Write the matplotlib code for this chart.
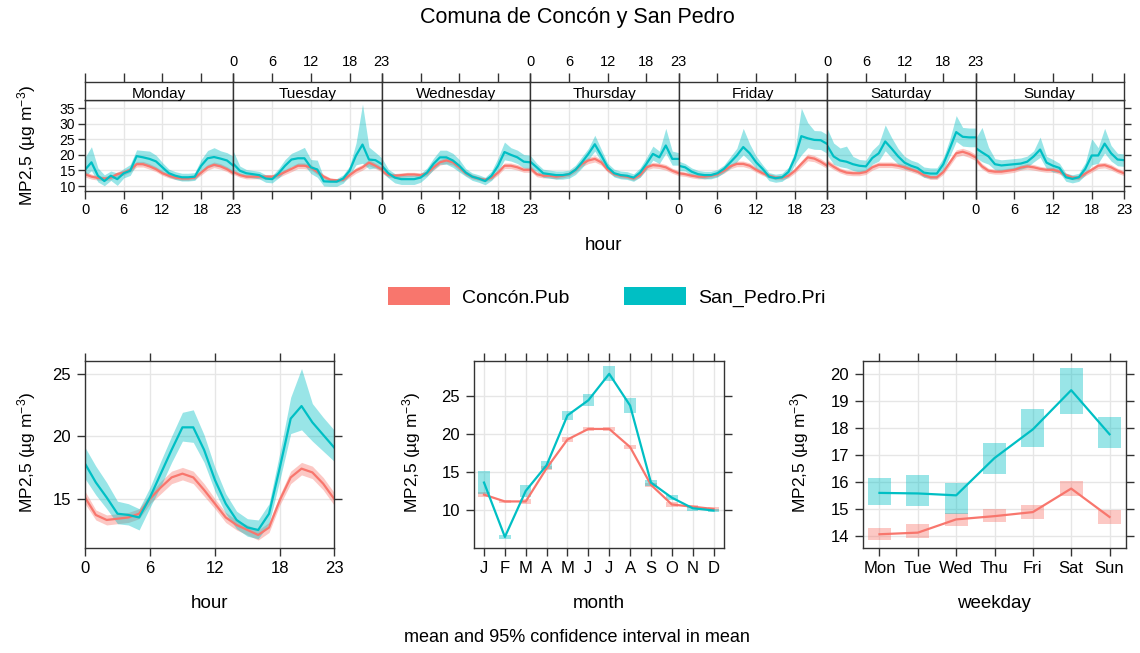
import matplotlib
matplotlib.use("Agg")
import matplotlib.pyplot as plt
from matplotlib.patches import Patch, Rectangle
import numpy as np

plt.rcParams['font.family'] = ['Liberation Sans', 'DejaVu Sans']
plt.rcParams['mathtext.default'] = 'regular'

RED = '#F8766D'
TEAL = '#00BFC4'
EDGE = '#333333'
GRID = '#e6e6e6'

days = ['Monday', 'Tuesday', 'Wednesday', 'Thursday', 'Friday', 'Saturday', 'Sunday']
series = ['Concón.Pub', 'San_Pedro.Pri']
ylab = 'MP2,5 (µg m$^{-3}$)'

# hour x weekday means (one row per day)
pub_week = [
    [13.8, 13.0, 12.6, 12.4, 12.7, 13.8, 14.3, 15.2, 17.0, 17.0, 16.3, 15.4, 14.1, 13.3, 12.7, 12.4, 12.4, 12.7, 14.3, 16.0, 16.8, 16.3, 15.4, 14.1],
    [14.5, 13.5, 13.0, 13.0, 13.0, 13.0, 13.0, 13.5, 14.5, 15.5, 16.5, 16.5, 16.0, 14.5, 13.0, 12.0, 11.8, 12.0, 13.5, 15.0, 16.0, 17.5, 16.5, 15.3],
    [14.9, 13.5, 13.3, 13.5, 13.7, 13.7, 13.5, 14.1, 16.0, 17.6, 18.2, 17.6, 16.0, 14.1, 13.0, 12.4, 12.0, 12.7, 14.3, 16.5, 16.5, 16.0, 15.2, 15.2],
    [15.7, 13.8, 13.3, 13.3, 13.0, 13.3, 13.8, 15.2, 17.1, 18.2, 18.7, 17.6, 15.2, 13.8, 13.3, 13.0, 12.4, 13.5, 16.0, 16.7, 16.5, 16.0, 14.9, 14.1],
    [14.1, 13.8, 13.3, 13.0, 13.0, 13.3, 13.8, 14.9, 16.3, 17.1, 17.1, 16.5, 15.2, 14.1, 13.3, 12.7, 12.7, 13.3, 14.9, 17.1, 19.2, 18.8, 17.8, 16.5],
    [17.6, 16.2, 15.0, 14.3, 14.1, 14.1, 14.5, 16.0, 16.8, 16.8, 16.8, 16.5, 16.0, 15.3, 14.6, 13.5, 12.8, 12.8, 14.5, 17.5, 20.5, 21.0, 20.3, 19.2],
    [18.7, 16.3, 14.9, 14.6, 14.6, 14.9, 15.2, 15.9, 16.3, 16.0, 15.5, 15.2, 15.2, 14.6, 13.5, 12.7, 12.7, 14.0, 15.2, 16.5, 16.7, 16.0, 14.9, 14.1],
]
pub_week_ci = [
    [0.9, 0.8, 0.7, 0.7, 0.7, 0.8, 0.8, 0.8, 0.9, 0.9, 0.9, 0.8, 0.7, 0.7, 0.6, 0.6, 0.6, 0.6, 0.8, 0.9, 0.9, 0.9, 0.8, 0.8],
    [0.8, 0.7, 0.7, 0.7, 0.7, 0.7, 0.7, 0.8, 0.8, 0.9, 0.9, 0.9, 0.9, 0.8, 0.7, 0.6, 0.6, 0.6, 0.8, 0.9, 0.9, 1.0, 0.9, 0.8],
    [0.8, 0.7, 0.7, 0.7, 0.7, 0.7, 0.7, 0.8, 0.9, 0.9, 1.0, 0.9, 0.9, 0.8, 0.7, 0.6, 0.6, 0.7, 0.8, 0.9, 0.9, 0.9, 0.8, 0.8],
    [0.9, 0.8, 0.7, 0.7, 0.7, 0.7, 0.7, 0.8, 0.9, 1.0, 1.0, 0.9, 0.8, 0.7, 0.7, 0.6, 0.6, 0.7, 0.8, 0.9, 0.9, 0.9, 0.8, 0.8],
    [0.8, 0.7, 0.7, 0.7, 0.7, 0.7, 0.7, 0.8, 0.8, 0.9, 0.9, 0.9, 0.8, 0.7, 0.7, 0.7, 0.7, 0.7, 0.8, 1.0, 1.1, 1.0, 1.0, 0.9],
    [1.0, 0.9, 0.8, 0.8, 0.8, 0.8, 0.8, 0.9, 0.9, 0.9, 0.9, 0.9, 0.9, 0.8, 0.8, 0.7, 0.7, 0.7, 0.8, 1.0, 1.1, 1.1, 1.1, 1.0],
    [1.0, 0.9, 0.8, 0.8, 0.8, 0.8, 0.8, 0.8, 0.9, 0.9, 0.8, 0.8, 0.8, 0.8, 0.7, 0.7, 0.7, 0.7, 0.8, 0.9, 0.9, 0.9, 0.8, 0.8],
]
pri_week = [
    [15.2, 17.6, 13.3, 11.6, 13.3, 12.2, 14.1, 14.9, 19.6, 19.2, 18.7, 17.9, 16.0, 14.1, 13.3, 12.8, 12.8, 13.0, 16.5, 18.9, 19.3, 18.8, 18.2, 16.5],
    [17.1, 14.9, 14.1, 13.8, 13.5, 12.4, 12.2, 14.1, 16.5, 18.5, 18.9, 18.9, 16.0, 15.3, 11.5, 11.4, 11.4, 12.4, 14.9, 19.8, 23.3, 18.5, 18.3, 17.0],
    [16.5, 14.1, 12.7, 12.2, 12.2, 12.2, 12.7, 14.3, 17.1, 19.2, 19.2, 18.2, 16.5, 14.3, 13.0, 12.4, 11.6, 13.3, 16.5, 20.9, 20.0, 19.2, 17.8, 17.6],
    [17.8, 16.0, 14.1, 13.8, 13.5, 13.5, 13.8, 15.2, 17.6, 20.3, 23.4, 19.8, 16.0, 14.1, 13.5, 13.3, 12.7, 14.3, 17.1, 20.3, 19.2, 23.0, 18.7, 18.7],
    [16.5, 16.0, 14.6, 13.8, 13.5, 13.5, 14.1, 15.5, 17.6, 19.8, 22.5, 20.5, 17.6, 15.5, 13.0, 12.5, 12.8, 14.5, 19.0, 26.0, 25.3, 24.8, 24.7, 23.5],
    [23.0, 19.5, 18.2, 17.8, 17.0, 16.5, 16.3, 19.0, 20.5, 24.3, 22.0, 19.5, 17.5, 16.5, 15.8, 14.3, 14.0, 14.0, 17.0, 22.0, 27.3, 25.8, 25.6, 25.6],
    [22.2, 20.8, 19.5, 17.0, 16.6, 16.8, 17.0, 17.2, 17.8, 19.5, 21.7, 17.5, 16.5, 15.8, 12.8, 12.3, 12.8, 15.5, 19.8, 19.8, 23.6, 20.5, 18.5, 18.3],
]
pri_week_up = [
    [4.0, 5.0, 2.5, 2.0, 1.5, 2.0, 1.5, 2.0, 2.0, 2.2, 2.5, 2.0, 1.5, 1.3, 1.3, 1.3, 1.3, 1.3, 2.0, 2.5, 3.0, 2.5, 2.5, 3.0],
    [4.0, 1.5, 1.2, 1.2, 1.2, 1.2, 1.2, 1.5, 2.0, 2.0, 2.5, 3.5, 2.5, 3.0, 1.2, 1.0, 1.0, 1.2, 1.5, 4.0, 13.0, 4.0, 2.5, 2.0],
    [2.5, 1.3, 1.3, 1.3, 1.3, 1.3, 1.3, 1.5, 1.8, 2.3, 2.3, 2.3, 2.0, 1.3, 1.2, 1.2, 1.2, 1.5, 2.5, 3.2, 2.3, 2.3, 2.3, 2.3],
    [2.0, 1.3, 1.3, 1.3, 1.3, 1.3, 1.3, 1.5, 1.8, 1.8, 2.9, 2.0, 1.3, 1.3, 1.3, 1.3, 1.2, 1.5, 2.0, 2.5, 2.0, 5.5, 2.5, 2.0],
    [1.5, 1.2, 1.2, 1.2, 1.2, 1.2, 1.2, 1.2, 1.8, 2.3, 6.0, 3.0, 2.0, 1.3, 1.3, 1.3, 1.3, 1.5, 2.0, 9.0, 5.0, 3.0, 3.0, 3.0],
    [5.5, 4.3, 4.0, 5.0, 2.5, 2.0, 2.0, 2.5, 3.0, 5.3, 3.5, 2.5, 2.0, 1.8, 1.8, 1.8, 1.8, 1.8, 2.0, 3.0, 5.3, 3.0, 3.0, 3.0],
    [3.0, 8.0, 3.0, 1.8, 1.8, 1.8, 1.8, 1.8, 1.8, 1.8, 4.0, 2.0, 2.0, 1.5, 1.3, 1.3, 1.3, 2.0, 5.4, 2.5, 4.9, 2.5, 2.0, 2.0],
]
pri_week_dn = [
    [2.0, 2.7, 2.0, 1.5, 1.5, 2.0, 1.5, 1.5, 2.5, 2.4, 2.4, 2.2, 1.8, 1.2, 1.2, 1.2, 1.2, 1.2, 2.2, 2.5, 2.8, 2.5, 2.5, 2.2],
    [2.0, 1.2, 1.2, 1.2, 1.2, 1.2, 1.2, 1.5, 1.8, 2.2, 2.2, 2.2, 2.0, 2.5, 1.5, 1.5, 1.5, 1.5, 1.5, 3.0, 6.0, 3.0, 2.5, 2.0],
    [2.0, 1.5, 1.7, 1.7, 1.7, 1.7, 1.5, 1.3, 1.8, 2.2, 2.2, 2.2, 2.0, 1.2, 1.2, 1.2, 1.2, 1.5, 2.0, 2.5, 2.0, 2.0, 2.0, 2.0],
    [2.0, 1.3, 1.3, 1.3, 1.3, 1.3, 1.3, 1.5, 1.8, 1.8, 2.2, 2.0, 1.2, 1.2, 1.2, 1.2, 1.2, 1.5, 1.8, 2.0, 2.0, 2.5, 2.0, 2.0],
    [1.5, 1.2, 1.2, 1.2, 1.2, 1.2, 1.2, 1.2, 1.8, 2.0, 2.5, 2.5, 2.0, 1.3, 1.3, 1.3, 1.3, 1.5, 2.0, 6.0, 3.0, 3.0, 3.0, 3.0],
    [3.0, 2.5, 2.0, 2.0, 2.0, 2.0, 2.0, 2.0, 2.5, 3.0, 3.0, 2.5, 2.0, 1.5, 1.5, 1.5, 1.5, 1.5, 2.0, 2.5, 3.0, 3.0, 3.0, 3.0],
    [3.0, 3.0, 2.5, 1.8, 1.8, 1.8, 1.8, 1.8, 1.8, 1.8, 2.5, 2.0, 2.0, 1.5, 1.3, 1.3, 1.3, 2.0, 3.0, 2.5, 3.0, 2.5, 2.0, 2.0],
]

# diurnal cycle
hour_pub = [15.1, 13.7, 13.3, 13.4, 13.5, 13.8, 15.0, 15.9, 16.7, 17.0, 16.7, 15.7, 14.6, 13.5, 12.9, 12.5, 12.1, 12.7, 14.9, 16.7, 17.4, 17.1, 16.2, 15.0]
hour_pub_ci = [0.5, 0.4, 0.4, 0.4, 0.4, 0.4, 0.4, 0.5, 0.5, 0.5, 0.5, 0.5, 0.4, 0.4, 0.4, 0.4, 0.4, 0.4, 0.4, 0.5, 0.5, 0.5, 0.5, 0.5]
hour_pri = [17.8, 16.3, 15.1, 13.8, 13.7, 13.5, 15.1, 17.0, 18.9, 20.7, 20.7, 18.9, 16.5, 14.6, 13.3, 12.7, 12.5, 13.8, 17.5, 21.4, 22.4, 21.1, 20.1, 19.1]
hour_pri_up = [1.3, 1.3, 1.2, 1.0, 0.9, 0.7, 0.8, 1.0, 1.1, 1.2, 1.4, 1.2, 1.0, 0.8, 0.7, 0.7, 0.8, 0.8, 1.2, 1.7, 3.0, 1.5, 1.4, 1.4]
hour_pri_dn = [1.2, 1.0, 0.9, 0.8, 0.8, 1.0, 0.8, 1.0, 1.0, 1.1, 1.2, 1.0, 0.9, 0.8, 0.7, 0.7, 0.7, 0.8, 1.0, 1.2, 1.9, 1.5, 1.3, 1.1]

# monthly means
month_lab = ['J', 'F', 'M', 'A', 'M', 'J', 'J', 'A', 'S', 'O', 'N', 'D']
month_pub = [12.0, 11.1, 11.1, 15.5, 19.3, 20.7, 20.7, 18.3, 13.3, 10.7, 10.4, 10.1]
month_pub_ci = [0.3, 0.2, 0.3, 0.3, 0.3, 0.3, 0.3, 0.3, 0.3, 0.3, 0.2, 0.2]
month_pri = [13.6, 6.4, 12.5, 15.9, 22.5, 24.5, 28.0, 23.8, 13.6, 11.6, 10.2, 9.9]
month_pri_ci = [1.5, 0.3, 0.8, 0.5, 0.6, 0.8, 1.0, 1.0, 0.4, 0.3, 0.3, 0.2]

# weekday means
wday_lab = ['Mon', 'Tue', 'Wed', 'Thu', 'Fri', 'Sat', 'Sun']
wday_pub = [14.06, 14.12, 14.61, 14.73, 14.88, 15.75, 14.70]
wday_pub_lo = [13.85, 13.93, 14.35, 14.50, 14.62, 15.48, 14.45]
wday_pub_hi = [14.30, 14.43, 14.84, 14.98, 15.15, 16.03, 14.95]
wday_pri = [15.59, 15.57, 15.50, 16.88, 17.94, 19.39, 17.76]
wday_pri_lo = [15.14, 15.10, 14.82, 16.30, 17.28, 18.50, 17.24]
wday_pri_hi = [16.15, 16.26, 15.96, 17.43, 18.71, 20.22, 18.40]

W, H = 1140, 653
fig = plt.figure(figsize=(W / 100, H / 100), dpi=100)


def box(x0, y0, x1, y1):
    return [x0 / W, 1 - y1 / H, (x1 - x0) / W, (y1 - y0) / H]


def frame(ax):
    for s in ax.spines.values():
        s.set_color(EDGE)
        s.set_linewidth(1.0)
    ax.tick_params(colors=EDGE, labelcolor='black')


hours = np.arange(24)

# ---- top: hour by weekday ----
x_left, x_right = 85, 1124
pw = (x_right - x_left) / 7
for d in range(7):
    x0 = x_left + d * pw
    ax = fig.add_axes(box(x0, 100, x0 + pw, 191))
    st = fig.add_axes(box(x0, 82, x0 + pw, 100))
    frame(ax)
    frame(st)

    pub = np.array(pub_week[d])
    pci = np.array(pub_week_ci[d])
    pri = np.array(pri_week[d])
    ax.fill_between(hours, pub - pci, pub + pci, color=RED, alpha=0.4, lw=0)
    ax.plot(hours, pub, color=RED, lw=1.6)
    ax.fill_between(hours, pri - np.array(pri_week_dn[d]), pri + np.array(pri_week_up[d]),
                    color=TEAL, alpha=0.4, lw=0)
    ax.plot(hours, pri, color=TEAL, lw=1.6)

    ax.set_xlim(0, 23)
    ax.set_ylim(8.4, 37.6)
    ax.set_xticks([0, 6, 12, 18, 23])
    ax.set_yticks([10, 15, 20, 25, 30, 35])
    ax.grid(True, color=GRID, lw=1)
    ax.set_axisbelow(True)
    ax.tick_params(axis='x', direction='out', length=6, width=1, labelsize=10.5, pad=3,
                   bottom=True, labelbottom=(d % 2 == 0), top=False)
    ax.tick_params(axis='y', direction='out', length=5, width=1, labelsize=10, pad=2,
                   left=(d == 0), labelleft=(d == 0), right=(d == 6), labelright=False)

    st.set_xlim(0, 23)
    st.set_ylim(0, 1)
    st.set_yticks([])
    st.set_xticks([0, 6, 12, 18, 23])
    st.tick_params(axis='x', direction='out', length=6.5, width=1, labelsize=10.5, pad=3,
                   bottom=False, labelbottom=False, top=True, labeltop=(d % 2 == 1))
    st.text(11.5, 0.35, days[d], ha='center', va='center', fontsize=11)

fig.text(27 / W, 1 - 145 / H, ylab, rotation=90, ha='center', va='center', fontsize=12.5)
fig.text(604 / W, 1 - 245 / H, 'hour', ha='center', va='center', fontsize=13.5)

# ---- legend ----
handles = [Patch(facecolor=RED, edgecolor='none'), Patch(facecolor=TEAL, edgecolor='none')]
fig.legend(handles, series, loc='center', bbox_to_anchor=(607 / W, 1 - 297 / H), ncol=2,
           frameon=False, fontsize=14, handlelength=3.2, handleheight=1.05,
           handletextpad=0.62, columnspacing=2.8)


def bottom_axes(x0, x1):
    ax = fig.add_axes(box(x0, 361, x1, 547.5))
    frame(ax)
    ax.grid(True, color=GRID, lw=1)
    ax.set_axisbelow(True)
    ax.tick_params(direction='out', length=6, width=1, labelsize=12, pad=4,
                   top=True, right=True, bottom=True, left=True)
    return ax


# ---- hour ----
ax = bottom_axes(85, 334)
pub = np.array(hour_pub)
pci = np.array(hour_pub_ci)
pri = np.array(hour_pri)
ax.fill_between(hours, pub - pci, pub + pci, color=RED, alpha=0.4, lw=0)
ax.plot(hours, pub, color=RED, lw=1.6)
ax.fill_between(hours, pri - np.array(hour_pri_dn), pri + np.array(hour_pri_up),
                color=TEAL, alpha=0.4, lw=0)
ax.plot(hours, pri, color=TEAL, lw=1.6)
ax.set_xlim(0, 23)
ax.set_ylim(11.1, 26.0)
ax.set_xticks([0, 6, 12, 18, 23])
ax.set_yticks([15, 20, 25])
fig.text(27 / W, 1 - 452 / H, ylab, rotation=90, ha='center', va='center', fontsize=12.5)
fig.text(210 / W, 1 - 603 / H, 'hour', ha='center', va='center', fontsize=13.5)

# ---- month ----
ax = bottom_axes(474, 724)
months = np.arange(1, 13)
bw = 0.55
for m in range(12):
    ax.add_patch(Rectangle((months[m] - bw / 2, month_pub[m] - month_pub_ci[m]), bw,
                           2 * month_pub_ci[m], color=RED, alpha=0.4, lw=0))
ax.plot(months, month_pub, color=RED, lw=1.6)
for m in range(12):
    ax.add_patch(Rectangle((months[m] - bw / 2, month_pri[m] - month_pri_ci[m]), bw,
                           2 * month_pri_ci[m], color=TEAL, alpha=0.4, lw=0))
ax.plot(months, month_pri, color=TEAL, lw=1.6)
ax.set_xlim(0.52, 12.5)
ax.set_ylim(5.0, 29.7)
ax.set_xticks(months)
ax.set_xticklabels(month_lab)
ax.set_yticks([10, 15, 20, 25])
fig.text(412 / W, 1 - 452 / H, ylab, rotation=90, ha='center', va='center', fontsize=12.5)
fig.text(599 / W, 1 - 603 / H, 'month', ha='center', va='center', fontsize=13.5)

# ---- weekday ----
ax = bottom_axes(863, 1126)
wd = np.arange(1, 8)
bw = 0.6
for i in range(7):
    ax.add_patch(Rectangle((wd[i] - bw / 2, wday_pub_lo[i]), bw, wday_pub_hi[i] - wday_pub_lo[i],
                           color=RED, alpha=0.4, lw=0))
ax.plot(wd, wday_pub, color=RED, lw=1.6)
for i in range(7):
    ax.add_patch(Rectangle((wd[i] - bw / 2, wday_pri_lo[i]), bw, wday_pri_hi[i] - wday_pri_lo[i],
                           color=TEAL, alpha=0.4, lw=0))
ax.plot(wd, wday_pri, color=TEAL, lw=1.6)
ax.set_xlim(0.57, 7.43)
ax.set_ylim(13.57, 20.47)
ax.set_xticks(wd)
ax.set_xticklabels(wday_lab)
ax.set_yticks([14, 15, 16, 17, 18, 19, 20])
fig.text(800 / W, 1 - 452 / H, ylab, rotation=90, ha='center', va='center', fontsize=12.5)
fig.text(994 / W, 1 - 603 / H, 'weekday', ha='center', va='center', fontsize=13.5)

fig.text(577 / W, 1 - 17 / H, 'Comuna de Concón y San Pedro', ha='center', va='center', fontsize=15.5)
fig.text(577 / W, 1 - 637 / H, 'mean and 95% confidence interval in mean', ha='center',
         va='center', fontsize=13)

fig.savefig('out.png', dpi=100)
